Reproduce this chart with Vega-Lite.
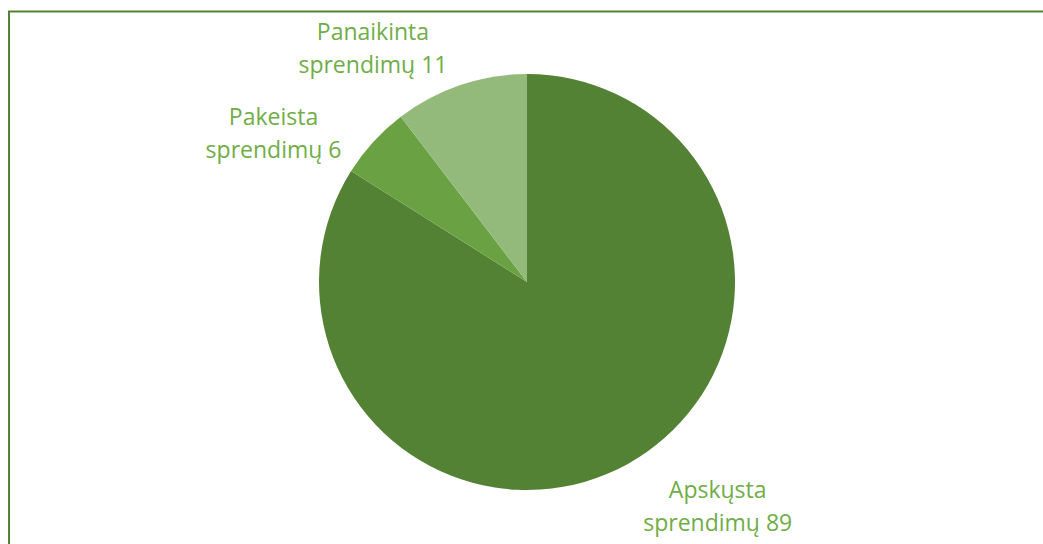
{
  "$schema": "https://vega.github.io/schema/vega-lite/v6.json",
  "width": 1040,
  "height": 540,
  "autosize": {"type": "none"},
  "padding": {"left": 9, "top": 11.5, "right": 0, "bottom": 0},
  "background": "white",
  "config": {"view": {"stroke": null}},
  "data": {
    "values": [
      {"idx": 1, "name": "Apskųsta", "value": 89, "label": "Apskųsta\nsprendimų 89"},
      {"idx": 2, "name": "Pakeista", "value": 6, "label": "Pakeista\nsprendimų 6"},
      {"idx": 3, "name": "Panaikinta", "value": 11, "label": "Panaikinta\nsprendimų 11"}
    ]
  },
  "layer": [
    {
      "data": {"values": [{"frame": 1}]},
      "mark": {"type": "rect", "x": 0, "y": 0, "x2": "width", "y2": "height", "fill": null, "stroke": "#548235", "strokeWidth": 2},
      "encoding": {}
    },
    {
      "mark": {"type": "arc", "x": 518, "y": 270.5, "outerRadius": 208},
      "encoding": {
        "theta": {"field": "value", "type": "quantitative", "stack": true},
        "order": {"field": "idx", "type": "quantitative"},
        "color": {
          "field": "name",
          "type": "nominal",
          "scale": {"domain": ["Apskųsta", "Pakeista", "Panaikinta"], "range": ["#548235", "#6AA243", "#93B97B"]},
          "legend": null
        }
      }
    },
    {
      "mark": {"type": "text", "x": 518, "y": 270.5, "radius": 250, "dx": 70, "dy": -3, "align": "center", "baseline": "alphabetic", "lineBreak": "\n", "lineHeight": 33, "font": "Open Sans", "fontSize": 23, "color": "#70AD47"},
      "encoding": {
        "theta": {"field": "value", "type": "quantitative", "stack": true},
        "order": {"field": "idx", "type": "quantitative"},
        "text": {"condition": {"test": "datum.idx == 1", "field": "label"}, "value": ""}
      }
    },
    {
      "mark": {"type": "text", "x": 518, "y": 270.5, "radius": 250, "dx": -69, "dy": 12, "align": "center", "baseline": "alphabetic", "lineBreak": "\n", "lineHeight": 33, "font": "Open Sans", "fontSize": 23, "color": "#70AD47"},
      "encoding": {
        "theta": {"field": "value", "type": "quantitative", "stack": true},
        "order": {"field": "idx", "type": "quantitative"},
        "text": {"condition": {"test": "datum.idx == 2", "field": "label"}, "value": ""}
      }
    },
    {
      "mark": {"type": "text", "x": 518, "y": 270.5, "radius": 250, "dx": -74, "dy": -5, "align": "center", "baseline": "alphabetic", "lineBreak": "\n", "lineHeight": 33, "font": "Open Sans", "fontSize": 23, "color": "#70AD47"},
      "encoding": {
        "theta": {"field": "value", "type": "quantitative", "stack": true},
        "order": {"field": "idx", "type": "quantitative"},
        "text": {"condition": {"test": "datum.idx == 3", "field": "label"}, "value": ""}
      }
    }
  ]
}
